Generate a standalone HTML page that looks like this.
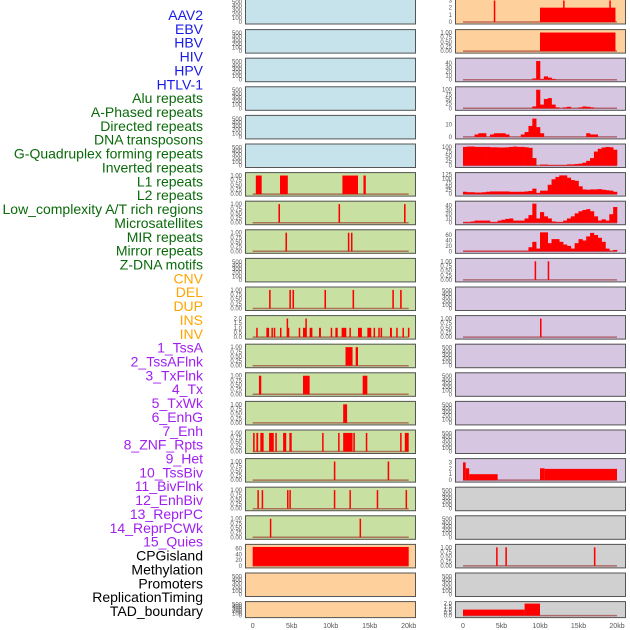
<!DOCTYPE html>
<html><head><meta charset="utf-8"><style>
html,body{margin:0;padding:0;background:#fff;width:630px;height:630px;overflow:hidden}
svg{display:block;font-family:"Liberation Sans",sans-serif}
</style></head><body>
<svg id="chart" width="630" height="630" viewBox="0 0 630 630"></svg>
<script>
const trackLabels = ["AAV2","EBV","HBV","HIV","HPV","HTLV-1","Alu repeats","A-Phased repeats","Directed repeats","DNA transposons","G-Quadruplex forming repeats","Inverted repeats","L1 repeats","L2 repeats","Low_complexity A/T rich regions","Microsatellites","MIR repeats","Mirror repeats","Z-DNA motifs","CNV","DEL","DUP","INS","INV","1_TssA","2_TssAFlnk","3_TxFlnk","4_Tx","5_TxWk","6_EnhG","7_Enh","8_ZNF_Rpts","9_Het","10_TssBiv","11_BivFlnk","12_EnhBiv","13_ReprPC","14_ReprPCWk","15_Quies","CPGisland","Methylation","Promoters","ReplicationTiming","TAD_boundary"];
const labelGroups = [6,13,5,15,5];
const groupColors = ["#1a1ae6","#0a6a0a","#ffa500","#a020f0","#000000"];
const xTicks = [0,5,10,15,20];
const xTickLabels = ["0","5kb","10kb","15kb","20kb"];

// Left column interval data [startKb, endKb, value]
const L7 = [[0.4,1.15,1],[3.5,4.5,1],[11.5,13.5,1],[14.2,14.5,1]];
const L8 = [[3.3,3.5,1],[11.0,11.2,1],[19.4,19.6,1]];
const L9 = [[4.2,4.4,1],[12.2,12.35,1],[12.6,12.75,1]];
const L11 = [[2.1,2.3,1],[4.7,4.9,1],[5.1,5.3,1],[9.2,9.4,1],[12.8,13.0,1],[17.9,18.1,1],[18.9,19.1,1]];
const L12 = [[0.45,0.6,1],[1.75,2.1,1],[2.4,2.55,1],[2.7,2.85,1],[3.5,3.65,1],[4.35,4.5,2],[4.5,4.65,1],[5.9,6.05,1],[6.45,6.8,1],[6.75,6.9,2],[7.3,7.65,1],[8.5,8.75,1],[10,10.15,1],[10.6,10.9,1],[11.4,12.0,1],[12.4,12.55,1],[13.5,14.0,1],[14.7,15.2,1],[15.5,15.65,1],[16.1,16.25,1],[16.4,16.55,1],[17.6,17.85,1],[18.4,18.55,1],[19.2,19.35,1],[19.9,20.05,1]];
const L13 = [[11.9,12.8,1],[13.2,13.5,1]];
const L14 = [[0.8,1.1,1],[6.45,7.3,1],[14.1,14.7,1]];
const L15 = [[11.6,12.1,1]];
const L16 = [[0.05,0.25,1],[0.47,0.7,1],[0.98,1.4,1],[2.1,2.7,1],[2.9,3.05,1],[3.9,4.3,1],[4.7,5.0,1],[8.9,9.05,1],[10.95,11.1,1],[11.6,12.0,1],[11.95,12.8,1],[12.9,13.1,1],[14.5,14.65,1],[18.9,19.05,1],[19.5,20.0,1]];
const L17 = [[10.4,10.6,1],[17.3,17.5,1]];
const L18 = [[0.6,0.75,1],[1.15,1.3,1],[4.4,4.55,1],[4.7,4.85,1],[10.4,10.55,1],[12.4,12.55,1],[15.9,16.05,1],[19.6,19.75,1]];
const L19 = [[2.2,2.35,1],[13.7,13.85,1]];
const L20 = [[0,20,66]];

// Right column
const R1 = [[0,10,0],[10,19.8,2],[4.0,4.12,3],[13.0,13.12,3],[19.0,19.12,3]];
const R2 = [[10,19.8,1]];
const R3 = [0,0,0,0,0,0,0,0,0,0,0,0,0,0,0,0,0,0,3,45,2,8,5,2,0,0,0,0,0,0,0,0,0,0,0,0,0,0,0,0];
const R4 = [0,0,0,0,0,0,0,0,0,0,0,0,0,0,0,0,0,0,10,100,20,50,55,20,5,0,5,8,0,0,5,10,8,5,0,0,0,0,0,0];
const R5 = [0,0,0,2,3,3,0,2,3,3,3,2,0,0,0,2,4,9,15,8,3,0,0,0,0,0,0,0,0,0,0,0,3,2,2,0,0,0,0,0];
const R6 = [100,102,102,100,100,100,100,98,98,97,97,98,100,102,100,100,98,95,40,0,5,5,3,3,3,3,3,6,6,8,10,15,25,40,75,90,97,100,98,85];
const R7 = [15,12,12,10,10,12,15,17,17,17,17,17,15,15,15,15,17,20,35,8,22,22,60,95,110,120,120,105,90,85,50,30,28,30,30,32,28,25,22,15];
const R8 = [2,2,3,5,5,5,5,2,2,5,7,9,10,5,5,5,10,18,45,10,25,15,10,3,2,2,5,10,15,22,27,30,32,27,15,5,8,5,20,37];
const R9 = [2,2,2,2,2,2,2,2,2,2,2,2,2,2,2,2,2,15,35,10,70,70,30,45,45,35,25,20,10,30,45,40,55,68,60,50,35,10,2,5];
const R10 = [[9.3,9.5,1],[11.0,11.2,1]];
const R12 = [[10,10.2,1]];
const R17 = [[0,0.35,3],[0.35,0.8,2],[0.8,4.5,1],[10,10.6,2],[10.6,20,1.9]];
const R20 = [[4.3,4.5,1],[5.5,5.7,1],[17.0,17.2,1]];
const R22 = [[0,8,1],[8,10,2]];

const T500=[0,100,200,300,400,500], T1=["0.00","0.25","0.50","0.75","1.00"];
const BLUE="#c6e3ec",GREEN="#c8e0a2",ORANGE="#fed09c",PURPLE="#d6c6e2",GREY="#d0d0d0";
const E={max:540,ticks:T500,labels:null};
const B={max:1.05,ticks:[0,0.25,0.5,0.75,1],labels:T1};
function cfg(bg,base,data,kind){return Object.assign({},base,{bg:bg,data:data||null,kind:kind||"iv"});}
const leftPanels=[cfg(BLUE,E),cfg(BLUE,E),cfg(BLUE,E),cfg(BLUE,E),cfg(BLUE,E),cfg(BLUE,E),
 cfg(GREEN,B,L7),cfg(GREEN,B,L8),cfg(GREEN,B,L9),cfg(GREEN,E),cfg(GREEN,B,L11),
 cfg(GREEN,{max:2.1,ticks:[0,0.5,1,1.5,2],labels:["0.0","0.5","1.0","1.5","2.0"]},L12),
 cfg(GREEN,B,L13),cfg(GREEN,B,L14),cfg(GREEN,B,L15),cfg(GREEN,B,L16),cfg(GREEN,B,L17),cfg(GREEN,B,L18),cfg(GREEN,B,L19),
 cfg(ORANGE,{max:68,ticks:[0,20,40,60],labels:null},L20),cfg(ORANGE,E),cfg(ORANGE,E)];
const rightPanels=[cfg(ORANGE,{max:3,ticks:[0,1,2,3],labels:null},R1),cfg(ORANGE,B,R2),
 cfg(PURPLE,{max:47,ticks:[0,10,20,30,40],labels:null},R3,"h"),
 cfg(PURPLE,{max:105,ticks:[0,25,50,75,100],labels:null},R4,"h"),
 cfg(PURPLE,{max:16,ticks:[0,10],labels:null},R5,"h"),
 cfg(PURPLE,{max:105,ticks:[0,25,50,75,100],labels:null},R6,"h"),
 cfg(PURPLE,{max:125,ticks:[0,25,50,75,100,125],labels:null},R7,"h"),
 cfg(PURPLE,{max:46,ticks:[0,10,20,30,40],labels:null},R8,"h"),
 cfg(PURPLE,{max:72,ticks:[0,20,40,60],labels:null},R9,"h"),
 cfg(PURPLE,B,R10),cfg(PURPLE,E),cfg(PURPLE,B,R12),cfg(PURPLE,E),cfg(PURPLE,E),cfg(PURPLE,E),cfg(PURPLE,E),
 cfg(PURPLE,{max:3.3,ticks:[0,1,2,3],labels:null},R17),
 cfg(GREY,E),cfg(GREY,E),cfg(GREY,B,R20),cfg(GREY,E),
 cfg(GREY,{max:2,ticks:[0,0.5,1,1.5,2],labels:["0.0","0.5","1.0","1.5","2.0"]},R22)];

const NS="http://www.w3.org/2000/svg";
const svg=document.getElementById("chart");
function mk(tag,attrs,parent){const e=document.createElementNS(NS,tag);for(const k in attrs)e.setAttribute(k,attrs[k]);(parent||svg).appendChild(e);return e;}

// labels
let li=0;
labelGroups.forEach((n,g)=>{for(let k=0;k<n;k++){const t=mk("text",{x:203,y:20+li*13.86,"text-anchor":"end","font-size":"14",fill:groupColors[g]});


t.textContent=trackLabels[li];li++;}});

function rowTop(i){return i===0?-2:28.6*i+0.5;}
function rowH(i){return i===0?26.5:(i===21?17:24.5);}
function drawPanel(p,i,col){
 const px=col===0?245:455, pw=171, x0=col===0?252.7:463, kbw=col===0?7.8:7.7;
 const top=rowTop(i),h=rowH(i),pad=2.5;
 const xs=kb=>x0+kb*kbw;
 const ys=v=>top+h-pad-(v/p.max)*(h-2*pad);
 const g=mk("g",{});
 
 
 const bg=mk("rect",{x:px,y:top,width:pw,height:h,fill:p.bg},g);
 
 
 if(p.data){
  const base=mk("line",{x1:xs(0),x2:xs(20),y1:ys(0),y2:ys(0),stroke:"rgba(150,40,40,0.6)","stroke-width":1.5},g);
  
  
  if(p.kind==="h"){
   p.data.forEach((v,b)=>{if(v<=0)return;const r=mk("rect",{x:xs(b*0.5),y:ys(v),width:xs(0.5)-xs(0)+0.3,height:ys(0)-ys(v),fill:"#ff0000"},g);
    
    });
  } else {
   p.data.forEach(d=>{if(d[2]<=0)return;const r=mk("rect",{x:xs(d[0]),y:ys(d[2]),width:Math.max(1.5,xs(d[1])-xs(d[0])),height:ys(0)-ys(d[2]),fill:"#ff0000"},g);
    
    });
  }
 }
 const fr=mk("rect",{x:px+0.5,y:top+0.5,width:pw-1,height:h-1,fill:"none",stroke:"#555","stroke-width":1},g);
 
 
 p.ticks.forEach((t,k)=>{const lab=p.labels?p.labels[k]:String(t);
  const tx=mk("text",{x:px-3,y:ys(t)+2,"text-anchor":"end","font-size":"6",fill:"#555"},g);
  
  
  tx.textContent=lab;});
}
leftPanels.forEach((p,i)=>drawPanel(p,i,0));
rightPanels.forEach((p,i)=>drawPanel(p,i,1));
[0,1].forEach(col=>{const x0=col===0?252.7:463,kbw=col===0?7.8:7.7;
 xTicks.forEach((t,k)=>{const tx=mk("text",{x:x0+t*kbw,y:628,"text-anchor":"middle","font-size":"7",fill:"#555"});
  
  
  tx.textContent=xTickLabels[k];});});
</script>
</body></html>
